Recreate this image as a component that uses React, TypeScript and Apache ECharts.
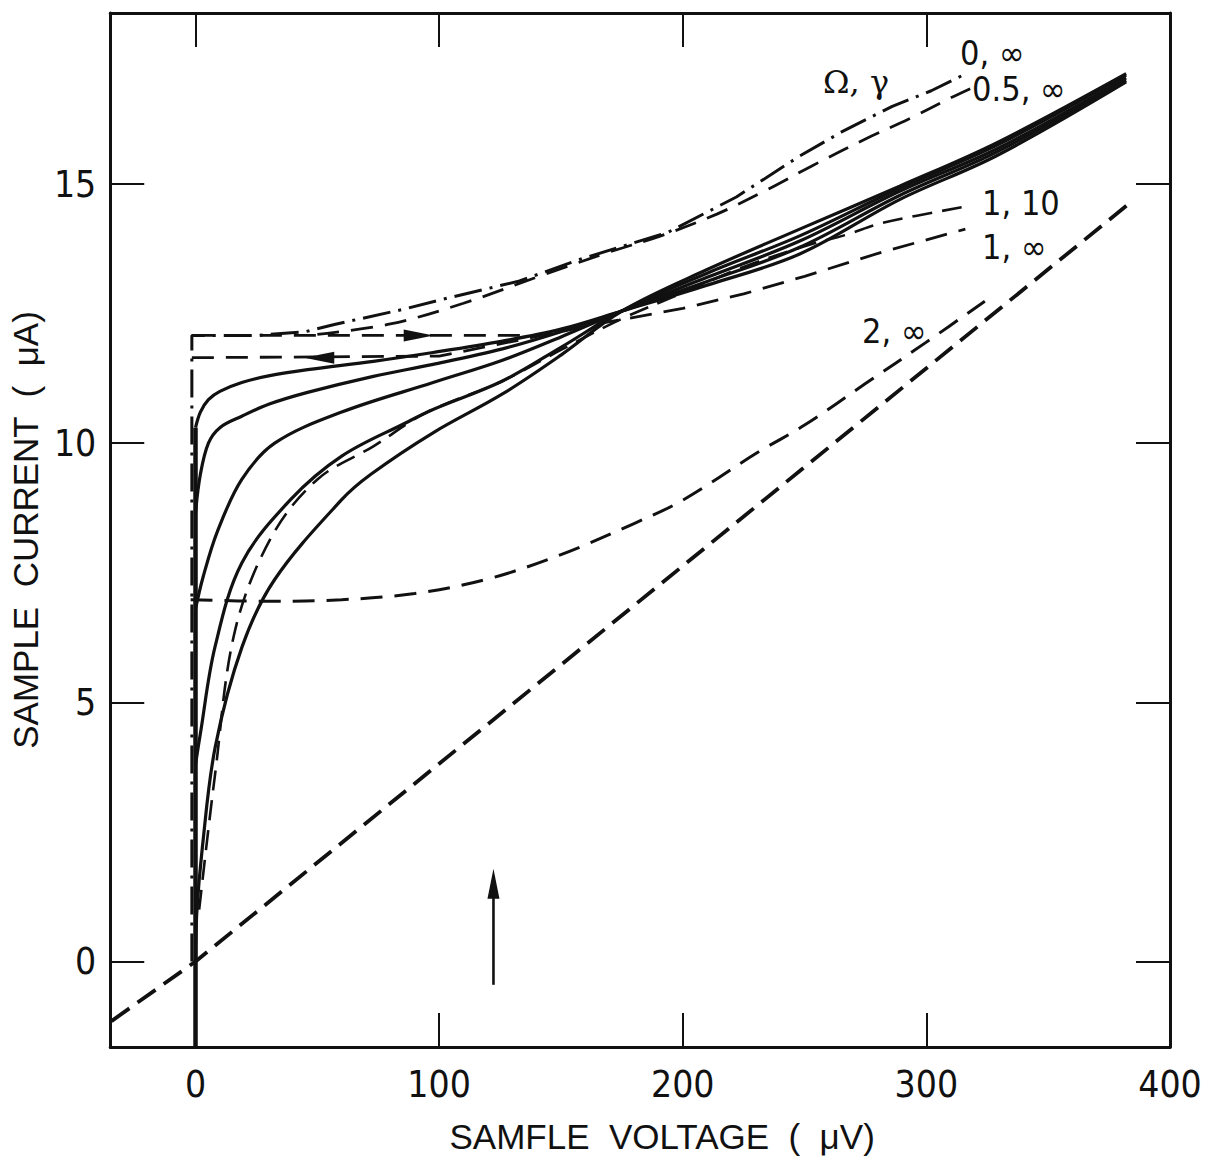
import React, { useEffect, useRef } from "react";
import * as echarts from "echarts";

type P = [number, number];

// axis ticks / labels
const xTickValues = [0, 100, 200, 300, 400];
const xTopTicks = [0, 100, 200, 300];
const yTickValues = [0, 5, 10, 15];

// V = 0 (superconducting) branch
const zeroVoltageBranch: P[] = [[0, -1.65], [0, 10.3]];

// solid family of curves
const solidA: P[] = [[0, 10.3], [2, 10.6], [5.3, 10.84], [10, 11.0], [19, 11.17], [30, 11.3], [46, 11.42], [73, 11.58], [97.5, 11.75], [126, 11.97], [150, 12.2], [175, 12.55], [210, 13.05], [248, 13.65], [289, 14.7], [329, 15.55], [382, 16.97]];
const solidB: P[] = [[0, 8.66], [2, 9.4], [5.3, 10.0], [10, 10.3], [19, 10.52], [30, 10.75], [46, 10.98], [73, 11.29], [97.5, 11.52], [126, 11.82], [150, 12.15], [175, 12.55], [210, 13.12], [248, 13.78], [289, 14.78], [329, 15.62], [382, 17.0]];
const solidC: P[] = [[0, 6.8], [3, 7.4], [9, 8.3], [19, 9.3], [32.5, 10.0], [60, 10.6], [97.5, 11.17], [126, 11.6], [150, 12.05], [175, 12.55], [210, 13.2], [248, 13.9], [289, 14.86], [329, 15.68], [382, 17.05]];
const solidD: P[] = [[0, 3.8], [2, 4.4], [8, 6.07], [19, 7.69], [39, 8.91], [60, 9.75], [86.6, 10.4], [97.5, 10.65], [126, 11.2], [150, 11.85], [175, 12.55], [210, 13.28], [248, 14.0], [289, 14.92], [329, 15.75], [382, 17.1]];
const solidE: P[] = [[0, 0.0], [0.5, 0.93], [2.8, 2.2], [8.1, 4.14], [19.1, 6.07], [32.5, 7.37], [60, 8.91], [72, 9.4], [97.5, 10.2], [126, 10.95], [150, 11.7], [175, 12.55], [210, 13.35], [248, 14.13], [289, 14.96], [329, 15.8], [382, 17.13]];

// Ω, γ = 0, ∞ (dash-dot)
const curve0Inf: P[] = [[-1.5, 0], [-1.5, 12.08], [25, 12.08], [45, 12.15], [57, 12.29], [85, 12.58], [100, 12.76], [133, 13.13], [158, 13.55], [194, 14.07], [222, 14.75], [248, 15.54], [265, 16.0], [286, 16.5], [302, 16.8], [315, 17.1]];
// Ω, γ = 0.5, ∞
const curve05Inf: P[] = [[50, 12.1], [80, 12.3], [110, 12.7], [143.5, 13.26], [170, 13.69], [191, 14.0], [214, 14.42], [235, 14.9], [253, 15.35], [275, 15.87], [293, 16.26], [309, 16.64], [318, 16.84]];
// switching path at the critical current
const jumpUp: P[] = [[-1.5, 12.08], [134, 12.08]];
// Ω, γ = 1, ∞ (with the return jump)
const curve1Inf: P[] = [[-1.5, 11.65], [100, 11.68], [134, 12.0], [165, 12.3], [200, 12.6], [225, 12.88], [250, 13.22], [282, 13.69], [316, 14.13]];
// Ω, γ = 1, 10
const curve1Ten: P[] = [[1.5, 1.0], [8, 3.6], [16.3, 6.4], [31.3, 8.2], [50, 9.3], [73, 9.94], [94.7, 10.59], [126, 11.2], [150, 11.8], [175, 12.4], [200, 12.9], [225, 13.4], [250, 13.8], [267, 14.02], [282, 14.25], [318, 14.58]];
// Ω, γ = 2, ∞
const curve2Inf: P[] = [[-2, 6.98], [30, 6.95], [60, 6.98], [90, 7.1], [120, 7.38], [150, 7.85], [180, 8.45], [200, 8.9], [230, 9.8], [250, 10.35], [275, 11.15], [300, 11.95], [324, 12.74]];
// normal-state (ohmic) line
const ohmicLine: P[] = [[-34.5, -1.15], [0, 0], [385, 14.69]];
// bias marker arrow
const markerArrow: P[] = [[122.3, -0.45], [122.3, 1.5]];
const markerHead: P[] = [[122.3, 1.5]];
const arrowRight: P[] = [[91.6, 12.08]];
const arrowLeft: P[] = [[50.8, 11.65]];

const INK = "#111";
const FONT = "'Liberation Sans Narrow', 'DejaVu Sans Condensed', 'Liberation Sans', sans-serif";

function lineSeries(data: P[], type: any, width: number, smooth: number | boolean = false) {
  return {
    type: "line",
    data,
    showSymbol: false,
    symbol: "none",
    smooth,
    lineStyle: { color: INK, width, type, cap: "butt", opacity: 1 },
    silent: true,
    z: 3,
  };
}

function arrowSeries(data: P[], rotate: number) {
  return {
    type: "scatter",
    data,
    symbol: "triangle",
    symbolRotate: rotate,
    symbolSize: [12, 30],
    itemStyle: { color: INK, opacity: 1 },
    silent: true,
    z: 4,
  };
}

export default function App() {
  const ref = useRef<HTMLDivElement>(null);
  useEffect(() => {
    if (!ref.current) return;
    const chart = echarts.init(ref.current, undefined, { renderer: "svg" });
    const dash = [22, 12];
    const axisCommon = {
      type: "value",
      splitLine: { show: false },
      axisLine: { show: true, onZero: false, lineStyle: { color: INK, width: 3 } },
      axisTick: { show: true, inside: true, length: 34, lineStyle: { color: INK, width: 2 } },
    };
    chart.setOption({
      animation: false,
      backgroundColor: "#ffffff",
      grid: { left: 105, right: 36, top: 13, bottom: 118, containLabel: false },
      xAxis: [
        {
          ...axisCommon,
          position: "bottom",
          min: -35,
          max: 400,
          axisTick: { ...axisCommon.axisTick, customValues: xTickValues },
          axisLabel: { customValues: xTickValues, color: INK, fontFamily: FONT, fontSize: 37, margin: 19 },
          name: "SAMFLE  VOLTAGE  (  \u03bcV)",
          nameLocation: "middle",
          nameGap: 72,
          nameTextStyle: { color: INK, fontFamily: "'Liberation Sans', sans-serif", fontSize: 35, padding: [0, 0, 0, 44] },
        },
        {
          ...axisCommon,
          position: "top",
          min: -35,
          max: 400,
          axisTick: { ...axisCommon.axisTick, customValues: xTopTicks },
          axisLabel: { show: false },
        },
      ],
      yAxis: [
        {
          ...axisCommon,
          position: "left",
          min: -1.65,
          max: 18.3,
          axisTick: { ...axisCommon.axisTick, customValues: yTickValues },
          axisLabel: { customValues: yTickValues, color: INK, fontFamily: FONT, fontSize: 37, margin: 14 },
          name: "SAMPLE  CURRENT  (  \u03bcA)",
          nameLocation: "middle",
          nameGap: 48,
          nameTextStyle: { color: INK, fontFamily: "'Liberation Sans', sans-serif", fontSize: 35 },
        },
        {
          ...axisCommon,
          position: "right",
          min: -1.65,
          max: 18.3,
          axisTick: { ...axisCommon.axisTick, customValues: yTickValues },
          axisLabel: { show: false },
        },
      ],
      series: [
        lineSeries(zeroVoltageBranch, "solid", 4.5),
        lineSeries(solidA, "solid", 3.2, 0.35),
        lineSeries(solidB, "solid", 3.2, 0.35),
        lineSeries(solidC, "solid", 3.2, 0.35),
        lineSeries(solidD, "solid", 3.2, 0.35),
        lineSeries(solidE, "solid", 3.2, 0.35),
        lineSeries(curve0Inf, [28, 8, 3, 8], 3, false),
        lineSeries(curve05Inf, dash, 2.8, 0.35),
        lineSeries(jumpUp, dash, 2.8, false),
        lineSeries(curve1Inf, dash, 2.8, false),
        lineSeries(curve1Ten, [20, 10], 2.6, 0.35),
        lineSeries(curve2Inf, dash, 3, 0.35),
        lineSeries(ohmicLine, [22, 10], 3.8, false),
        lineSeries(markerArrow, "solid", 2.6, false),
        arrowSeries(markerHead, 0),
        arrowSeries(arrowRight, -90),
        arrowSeries(arrowLeft, 90),
      ],
      graphic: [
        { type: "text", left: 823, top: 66, style: { text: "\u03a9, \u03b3", font: "32px 'DejaVu Serif', serif", fill: INK } },
        { type: "text", left: 960, top: 36, style: { text: "0, \u221e", font: `34px ${FONT}`, fill: INK } },
        { type: "text", left: 972, top: 72, style: { text: "0.5, \u221e", font: `34px ${FONT}`, fill: INK } },
        { type: "text", left: 982, top: 186, style: { text: "1, 10", font: `34px ${FONT}`, fill: INK } },
        { type: "text", left: 982, top: 230, style: { text: "1, \u221e", font: `34px ${FONT}`, fill: INK } },
        { type: "text", left: 862, top: 314, style: { text: "2, \u221e", font: `34px ${FONT}`, fill: INK } },
      ],
    });
    return () => chart.dispose();
  }, []);
  return (
    <div
      ref={ref}
      style={{ position: "absolute", left: 0, top: 0, width: 1206, height: 1165, background: "#fff" }}
    />
  );
}
